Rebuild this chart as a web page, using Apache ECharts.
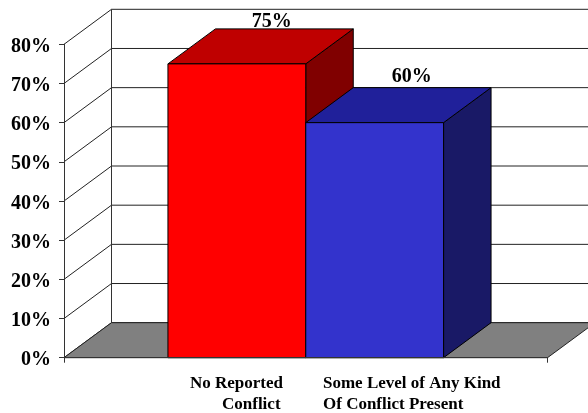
<!DOCTYPE html>
<html>
<head>
<meta charset="utf-8">
<style>html,body{margin:0;padding:0;background:#fff}#chart{width:588px;height:413px}</style>
<script src="https://cdn.jsdelivr.net/npm/echarts@6/dist/echarts.min.js"></script>
</head>
<body>
<div id="chart"></div>
<script>
// Share of respondents by conflict status
const categories = ['No Reported Conflict', 'Some Level of Any Kind Of Conflict Present'];
const values = [75, 60];
const gridValues = [0, 10, 20, 30, 40, 50, 60, 70, 80];
const categoryLines = [['No Reported', 'Conflict'], ['Some Level of Any Kind', 'Of Conflict Present']];

const frontColors = ['#FF0000', '#3333CC'];
const topColors = ['#BF0000', '#20209A'];
const sideColors = ['#800000', '#191966'];

// Oblique projection used for the extruded box look
const DEPTH_X = 47.5;
const DEPTH_Y = -35;
const BAR_SPAN = 0.57;   // bar width in x-axis units (axis runs 0..2)
const FONT = '"Liberation Serif", "Times New Roman", serif';
const EDGE = '#000';
const VALUE_LABEL_DX = [35, 37];
const VALUE_LABEL_DY = [-42, -46];
const CATEGORY_LABEL_X = [[190, 222], [323, 323]];

const back = p => [p[0] + DEPTH_X, p[1] + DEPTH_Y];

function polygon(points, fill, stroke) {
  return {
    type: 'polygon',
    shape: { points },
    style: { fill, stroke: stroke || EDGE, lineWidth: 1 }
  };
}
function line(a, b, color) {
  return {
    type: 'line',
    shape: { x1: a[0], y1: a[1], x2: b[0], y2: b[1] },
    style: { stroke: color, lineWidth: 1 }
  };
}

function renderWallLine(params, api) {
  const v = api.value(0);
  const a = api.coord([0, v]);
  const b = api.coord([2, v]);
  const children = [line(a, back(a), '#222'), line(back(a), back(b), '#222')];
  if (v === gridValues[gridValues.length - 1]) {
    const low = api.coord([0, 0]);
    children.push(line(back(low), back(a), '#333'));
  }
  return { type: 'group', children };
}

function renderFloor(params, api) {
  const a = api.coord([0, 0]);
  const b = api.coord([2, 0]);
  return polygon([a, b, back(b), back(a)], '#808080', '#222');
}

function renderBar(params, api) {
  const i = params.dataIndex;
  const v = api.value(1);
  const start = 1 - BAR_SPAN + i * BAR_SPAN;
  const p0 = api.coord([start, 0]);
  const p1 = api.coord([start + BAR_SPAN, 0]);
  const p2 = api.coord([start + BAR_SPAN, v]);
  const p3 = api.coord([start, v]);
  return {
    type: 'group',
    children: [
      polygon([p1, back(p1), back(p2), p2], sideColors[i]),
      polygon([p3, p2, back(p2), back(p3)], topColors[i]),
      polygon([p0, p1, p2, p3], frontColors[i]),
      {
        type: 'text',
        z2: 10,
        style: {
          text: v + '%',
          x: (p3[0] + p2[0]) / 2 + VALUE_LABEL_DX[i],
          y: p3[1] + VALUE_LABEL_DY[i],
          align: 'center',
          verticalAlign: 'middle',
          font: 'bold 20px ' + FONT,
          fill: '#000'
        }
      }
    ]
  };
}

const chart = echarts.init(document.getElementById('chart'), null, { renderer: 'canvas' });
chart.setOption({
  animation: false,
  backgroundColor: '#fff',
  grid: { left: 64, top: 44.3, width: 483.5, height: 313.4 },
  xAxis: {
    type: 'value', min: 0, max: 2, interval: 2, z: 6,
    axisLine: { show: true, onZero: false, lineStyle: { color: '#333', width: 1 } },
    axisTick: { show: true, length: 5, lineStyle: { color: '#333' } },
    axisLabel: { show: false },
    splitLine: { show: false }
  },
  yAxis: {
    type: 'value', min: 0, max: 80, interval: 10, z: 6,
    axisLine: { show: true, lineStyle: { color: '#333', width: 1 } },
    axisTick: { show: true, length: 5, lineStyle: { color: '#333' } },
    axisLabel: {
      formatter: v => '{pct|' + v + '%}', margin: 13,
      rich: {
        pct: {
          color: '#000', fontFamily: FONT, fontWeight: 'bold', fontSize: 20,
          padding: [5, 0, 0, 0]
        }
      }
    },
    splitLine: { show: false }
  },
  graphic: categoryLines.flatMap((lines, i) => lines.map((text, j) => ({
    type: 'text',
    x: CATEGORY_LABEL_X[i][j],
    y: 384 + j * 21,
    style: { text, font: 'bold 17px ' + FONT, fill: '#000', verticalAlign: 'middle' }
  }))),
  series: [
    {
      type: 'custom', z: 2, silent: true, clip: false,
      coordinateSystem: 'cartesian2d',
      encode: { x: 1, y: 0 },
      data: gridValues.map(v => [v, 0]),
      renderItem: renderWallLine
    },
    {
      type: 'custom', z: 3, silent: true, clip: false,
      coordinateSystem: 'cartesian2d',
      encode: { x: 0, y: 1 },
      data: [[0, 0]],
      renderItem: renderFloor
    },
    {
      type: 'custom', z: 4, silent: true, clip: false,
      coordinateSystem: 'cartesian2d',
      encode: { x: 0, y: 1 },
      data: values.map((v, i) => [i, v]),
      renderItem: renderBar
    }
  ]
});
</script>
</body>
</html>
